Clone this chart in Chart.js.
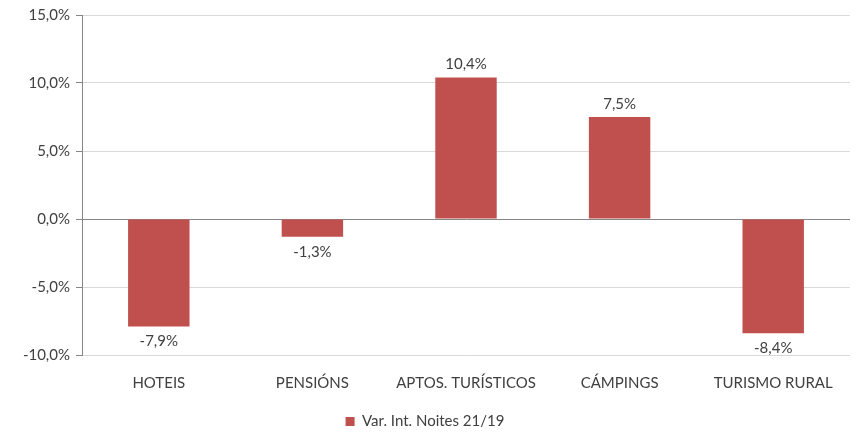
<!DOCTYPE html>
<html>
<head>
<meta charset="utf-8">
<script src="https://cdn.jsdelivr.net/npm/chart.js@4"></script>
<style>
  html, body { margin: 0; padding: 0; background: #fff; }
  #wrap { width: 858px; height: 434px; }
</style>
</head>
<body>
<div id="wrap"><canvas id="myChart" width="858" height="434"></canvas></div>
<script>
const categories = ['HOTEIS', 'PENSIÓNS', 'APTOS. TURÍSTICOS', 'CÁMPINGS', 'TURISMO RURAL'];
const seriesLabel = 'Var. Int. Noites 21/19';
const values = [-7.9, -1.3, 10.4, 7.5, -8.4];
const yTicks = [-10, -5, 0, 5, 10, 15];

const fmt = (v) => v.toFixed(1).replace('.', ',') + '%';
const FONT = 'Lato, Calibri, "Open Sans", sans-serif';

const valueLabels = {
  id: 'valueLabels',
  afterDatasetsDraw(chart) {
    const ctx = chart.ctx;
    const meta = chart.getDatasetMeta(0);
    ctx.save();
    ctx.font = '15px ' + FONT;
    ctx.fillStyle = '#404040';
    ctx.textAlign = 'center';
    ctx.textBaseline = 'middle';
    meta.data.forEach((bar, i) => {
      const v = values[i];
      if (v >= 0) {
        ctx.fillText(fmt(v), bar.x, bar.y - 13);
      } else {
        ctx.fillText(fmt(v), bar.x, bar.y + 15);
      }
    });
    ctx.restore();
  }
};

new Chart(document.getElementById('myChart').getContext('2d'), {
  type: 'bar',
  data: {
    labels: categories,
    datasets: [{
      label: seriesLabel,
      data: values,
      backgroundColor: '#C0504D',
      borderWidth: 0,
      barPercentage: 0.4,
      categoryPercentage: 1.0
    }]
  },
  options: {
    responsive: false,
    animation: false,
    layout: { padding: { top: 6, right: 8, left: 0, bottom: -5 } },
    plugins: {
      tooltip: { enabled: false },
      legend: {
        position: 'bottom',
        labels: {
          boxWidth: 9,
          boxHeight: 9,
          padding: 3,
          color: '#404040',
          font: { size: 15, family: FONT }
        }
      }
    },
    scales: {
      x: {
        afterFit(scale) { scale.height = 56; },
        grid: { display: false, drawTicks: false },
        border: { display: false },
        ticks: {
          color: '#404040',
          padding: 19,
          maxRotation: 0,
          font: { size: 15, family: FONT }
        }
      },
      y: {
        min: -10,
        max: 15,
        afterFit(scale) { scale.width = 82; },
        afterBuildTicks(scale) { scale.ticks = yTicks.map(v => ({ value: v })); },
        grid: {
          color: (c) => c.tick && c.tick.value === 0 ? '#868686' : '#D9D9D9',
          tickColor: '#868686',
          tickLength: 6
        },
        border: { display: true, color: '#868686' },
        ticks: {
          color: '#404040',
          padding: 6,
          font: { size: 15, family: FONT },
          callback: (v) => fmt(v)
        }
      }
    }
  },
  plugins: [valueLabels]
});
</script>
</body>
</html>
